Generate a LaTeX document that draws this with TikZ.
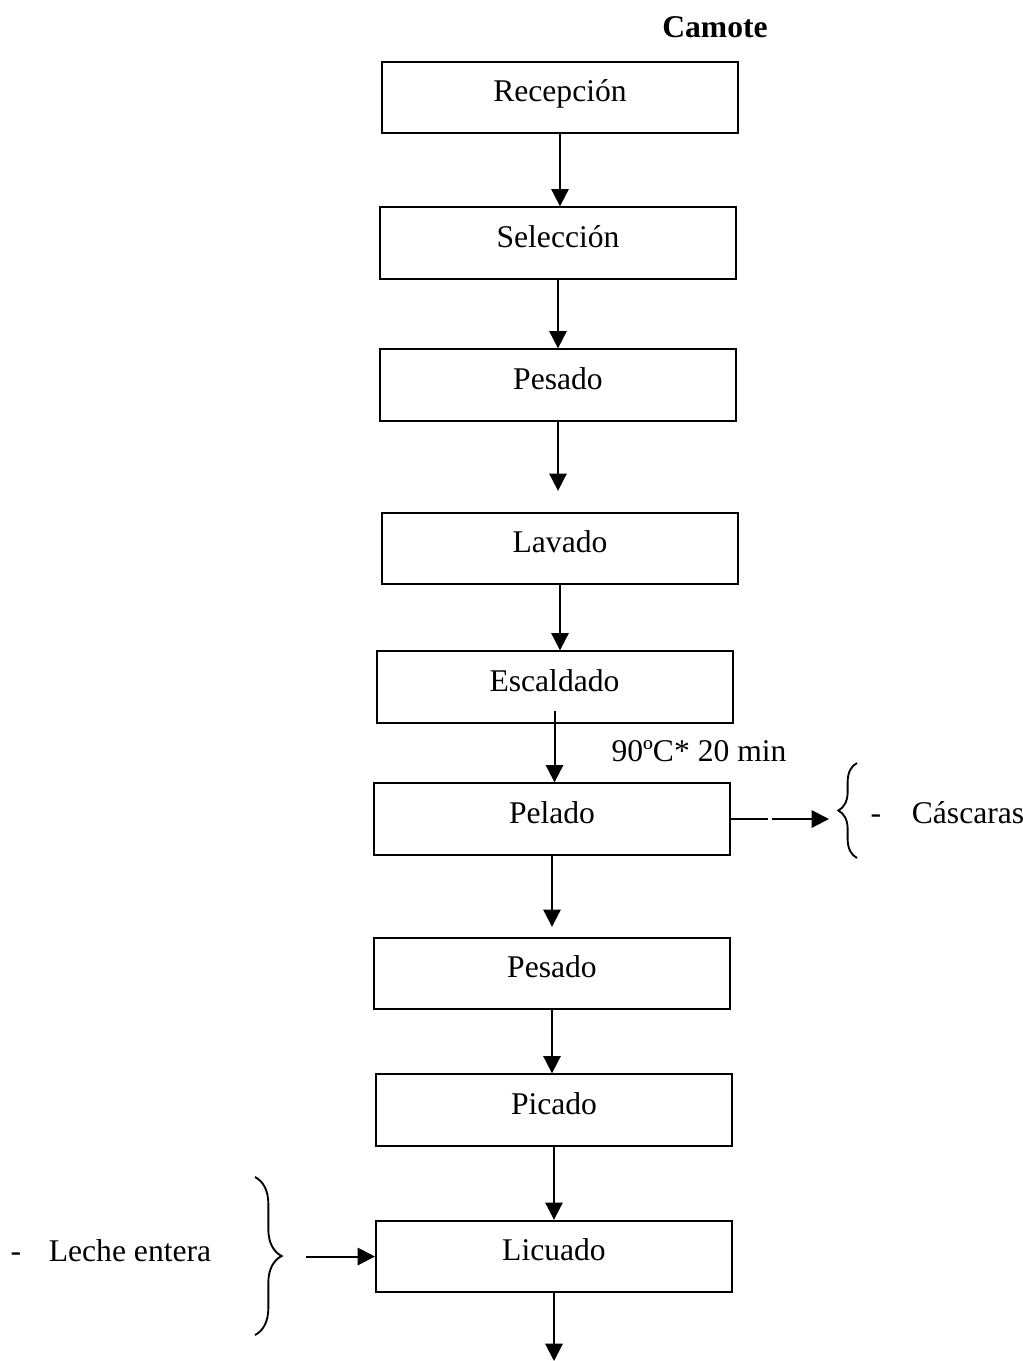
\documentclass[tikz,border=0pt]{standalone}
\usepackage{fontspec}
\setmainfont{Liberation Serif}
\usetikzlibrary{arrows.meta,decorations.pathreplacing,calc}
\begin{document}
\begin{tikzpicture}[x=0.75pt,y=-0.75pt,
  every node/.style={font=\fontsize{23.7}{28}\selectfont},
  stage/.style={draw,line width=1.5pt,minimum width=267pt,minimum height=53.5pt,
    inner sep=0pt,text height=13pt,text depth=6.4pt},
  flow/.style={line width=1.5pt,-{Triangle[width=13pt,length=13pt]}},
  plain/.style={line width=1.5pt},
  curly/.style={line width=1.4pt,decorate,decoration={brace,amplitude=#1}}]
\useasboundingbox (0,0) rectangle (1023,1361);

% process stages
\node[stage] (rec)  at (560,97.5)  {Recepción};
\node[stage] (sel)  at (558,243)   {Selección};
\node[stage] (pes1) at (558,385)   {Pesado};
\node[stage] (lav)  at (560,548.5) {Lavado};
\node[stage] (esc)  at (554.5,687) {Escaldado};
\node[stage] (pel)  at (552,819)   {Pelado};
\node[stage] (pes2) at (552,973.5) {Pesado};
\node[stage] (pic)  at (554,1110)  {Picado};
\node[stage] (lic)  at (554,1256.5){Licuado};

% labels
\node[anchor=base] (title) at (715,37) {\textbf{Camote}};
\node[anchor=base] (temp)  at (699,761) {90ºC* 20 min};
\node[anchor=base] (dash1) at (876,823) {-};
\node[anchor=base] (cas)   at (968,823) {Cáscaras};
\node[anchor=base] (dash2) at (16,1261) {-};
\node[anchor=base] (milk)  at (130,1261) {Leche entera};

% main flow
\draw[flow] (rec.south) -- (rec.south |- sel.north);
\draw[flow] (sel.south) -- (sel.south |- pes1.north);
\draw[flow] (pes1.south) -- ($(pes1.south |- lav.north)+(0,-21)$);
\draw[flow] (lav.south) -- (lav.south |- esc.north);
\draw[flow] ($(esc.south)+(0,-13)$) -- (esc.south |- pel.north);
\draw[flow] (pel.south) -- ($(pel.south |- pes2.north)+(0,-10)$);
\draw[flow] (pes2.south) -- (pes2.south |- pic.north);
\draw[flow] (pic.south) -- (pic.south |- lic.north);
\coordinate (out) at (553,1361);
\draw[flow] (lic.south) -- (lic.south |- out);

% peel output
\coordinate (g1) at (768,819);
\coordinate (g2) at (772,819);
\coordinate (peel) at (829,819);
\draw[plain] (pel.east) -- (g1);
\draw[flow] (g2) -- (peel);
\draw[curly=14pt] (857,858) -- (857,763);

% milk input
\coordinate (milkin) at (306,1256.5);
\draw[flow] (milkin) -- (lic.west);
\draw[curly=20pt] (255,1177) -- (255,1335);
\end{tikzpicture}
\end{document}
